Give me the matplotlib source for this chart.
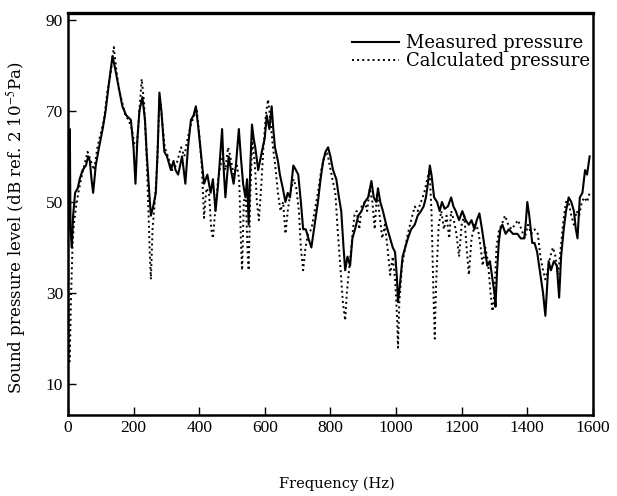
import matplotlib
matplotlib.use("Agg")
import matplotlib.pyplot as plt

plt.rcParams['font.family'] = ['Liberation Serif', 'DejaVu Serif']
plt.rcParams['mathtext.fontset'] = 'stix'

# measured sound pressure level
meas_f = [0, 3, 6, 8, 12, 16, 22, 30, 36, 45, 55, 62, 67, 72, 77, 85, 95, 106, 115, 125,
          136, 142, 150, 158, 166, 178, 192, 200, 206, 212, 218, 227, 235, 240, 248, 253, 260, 268, 274, 279,
          285, 294, 302, 314, 322, 328, 336, 348, 358, 366, 375, 383, 390, 398, 405, 415, 425, 435, 442, 450,
          458, 464, 470, 475, 480, 490, 497, 505, 512, 521, 527, 534, 541, 546, 551, 556, 561, 566, 571, 580,
          591, 600, 606, 614, 621, 626, 631, 640, 646, 655, 663, 670, 677, 687, 695, 702, 710, 717, 725, 733,
          742, 750, 762, 770, 778, 785, 793, 800, 808, 818, 826, 833, 840, 845, 852, 860, 867, 875, 885, 895,
          905, 915, 925, 932, 940, 945, 952, 960, 970, 982, 990, 997, 1003, 1006, 1012, 1020, 1028, 1036, 1046, 1057,
          1066, 1076, 1084, 1091, 1097, 1103, 1108, 1116, 1125, 1133, 1140, 1148, 1158, 1168, 1175, 1182, 1192, 1202, 1212, 1222,
          1230, 1239, 1246, 1254, 1262, 1270, 1278, 1286, 1294, 1300, 1303, 1308, 1313, 1318, 1324, 1334, 1344, 1356, 1370, 1380,
          1391, 1396, 1400, 1406, 1415, 1422, 1430, 1440, 1448, 1455, 1460, 1465, 1472, 1481, 1490, 1497, 1503, 1511, 1518, 1526,
          1534, 1542, 1548, 1553, 1560, 1568, 1576, 1582, 1590]
meas_db = [42, 48, 66, 44, 40, 47, 52, 53, 55, 57, 58, 60, 59, 55, 52, 58, 62, 66, 70, 76,
           82, 80, 77, 74, 71, 69, 68, 62, 54, 64, 70, 73, 68, 61, 52, 47, 49, 52, 62, 74,
           70, 61, 60, 57, 59, 57, 56, 60, 54, 62, 68, 69, 71, 66, 61, 54, 56, 52, 55, 48,
           54, 60, 66, 57, 51, 60, 57, 54, 58, 66, 60, 54, 51, 55, 45, 58, 67, 64, 62, 57,
           61, 64, 69, 66, 71, 66, 62, 59, 56, 53, 50, 52, 51, 58, 57, 56, 50, 44, 44, 42,
           40, 44, 50, 55, 59, 61, 62, 60, 57, 55, 51, 48, 40, 35, 38, 36, 42, 44, 47, 48,
           50, 51, 54.6, 51, 50, 53, 50, 48, 45, 42, 40, 39, 33, 28, 32, 38, 40, 42, 44, 45,
           47, 48, 49, 51, 54, 58, 56, 51, 50, 48, 50, 48.5, 49, 51, 49, 48, 46, 48, 46, 45,
           46, 44, 46, 47.5, 44, 40, 36, 37, 33, 30, 27, 35, 41, 44, 45, 43, 44, 43, 43, 42,
           42, 46, 50, 47, 41, 41, 39, 34, 30, 25, 31, 37, 35, 37, 36, 29, 38, 44, 48, 51,
           50, 48, 44, 42, 51, 52, 57, 56, 60]

# calculated sound pressure level
calc_f = [0, 3, 5, 7, 10, 14, 18, 25, 32, 40, 50, 60, 70, 80, 90, 100, 110, 120, 130, 140,
          146, 155, 165, 175, 185, 195, 202, 210, 218, 225, 232, 240, 246, 250, 253, 258, 265, 272, 279, 286,
          295, 305, 318, 330, 345, 355, 365, 375, 385, 393, 400, 408, 415, 422, 430, 437, 442, 450, 458, 465,
          472, 480, 488, 495, 505, 515, 522, 528, 531, 536, 542, 548, 551, 556, 562, 570, 576, 582, 588, 596,
          603, 610, 617, 625, 632, 640, 648, 656, 663, 670, 678, 688, 696, 704, 710, 717, 724, 732, 742, 752,
          762, 772, 782, 790, 798, 806, 815, 822, 830, 838, 845, 850, 858, 866, 873, 880, 888, 895, 905, 912,
          920, 928, 935, 942, 950, 958, 966, 974, 982, 990, 997, 1003, 1006, 1010, 1018, 1028, 1036, 1046, 1057, 1066,
          1076, 1086, 1095, 1102, 1108, 1114, 1118, 1122, 1130, 1138, 1146, 1154, 1162, 1168, 1176, 1184, 1192, 1200, 1208, 1215,
          1222, 1230, 1240, 1250, 1258, 1264, 1272, 1280, 1288, 1294, 1300, 1306, 1314, 1322, 1332, 1342, 1352, 1362, 1372, 1382,
          1392, 1402, 1412, 1422, 1432, 1440, 1448, 1455, 1462, 1470, 1478, 1486, 1494, 1502, 1510, 1518, 1526, 1534, 1542, 1550,
          1558, 1566, 1574, 1582, 1590]
calc_db = [40, 25, 15, 20, 30, 40, 45, 49, 52, 55, 58, 61, 59, 57, 62, 65, 68, 74, 78, 84,
           80, 75, 72, 69, 68, 66, 63, 62, 70, 77, 72, 60, 47, 38, 33, 44, 50, 58, 73, 69,
           62, 60, 57, 58, 62, 60, 64, 67, 69, 70, 65, 58, 46.5, 53, 52, 44, 42, 49, 55, 58,
           60, 57, 62, 60, 56, 58, 55, 40, 35, 50, 52, 38, 35, 52, 64, 58, 50, 46, 52, 62,
           69, 72.5, 68, 62, 58, 52, 48, 50, 43, 48, 52, 55, 53, 48, 40, 35, 40, 43, 44, 48,
           52, 57, 60, 61, 58, 55, 52, 44, 36, 28, 24, 30, 36, 42, 47, 48, 44, 49, 50, 48,
           53, 50, 44, 52, 47, 42, 45, 40, 34, 38, 33, 25, 18, 28, 36, 40, 43, 46, 49, 48,
           50, 52, 55, 57, 48, 30, 20, 32, 45, 48, 44, 47, 42, 48, 46, 43, 38, 45, 47, 40,
           34, 42, 45, 44, 40, 36, 40, 37, 30, 26, 30, 40, 44, 45, 47, 45, 44, 45, 46, 44,
           42, 45, 43, 44, 43, 38, 35, 33, 35, 38, 40, 38, 34, 40, 46, 50, 50, 47, 45, 48,
           47, 50, 51, 50, 52]

fig = plt.figure(figsize=(6.17, 4.96), dpi=100)
ax = fig.add_axes([0.110, 0.163, 0.851, 0.811])

ax.plot(meas_f, meas_db, color='black', lw=1.5, linestyle='-', label='Measured pressure')
ax.plot(calc_f, calc_db, color='black', lw=1.4, linestyle=':', label='Calculated pressure')

ax.set_xlim(0, 1600)
ax.set_ylim(3.2, 91.5)
ax.set_xticks(range(0, 1601, 200))
ax.set_yticks([10, 30, 50, 70, 90])
ax.tick_params(direction='in', length=6, width=1, labelsize=12.5, top=False, right=False)
for sp in ax.spines.values():
    sp.set_linewidth(1.8)
ax.spines['top'].set_linewidth(2.4)

ax.set_xlabel('Frequency (Hz)', fontsize=10.5, family='DejaVu Serif')
ax.xaxis.set_label_coords(0.512, -0.152)
ax.set_ylabel('Sound pressure level (dB ref. 2 10$^{-5}$Pa)', fontsize=12, family='DejaVu Serif')
ax.yaxis.set_label_coords(-0.075, 0.465)

ax.legend(loc='upper left', bbox_to_anchor=(0.541, 0.947), frameon=False,
          prop={'family': 'DejaVu Serif', 'size': 13}, handlelength=2.6,
          labelspacing=0.0, borderaxespad=0, borderpad=0, handletextpad=0.4)

fig.savefig('out.png', dpi=100)
